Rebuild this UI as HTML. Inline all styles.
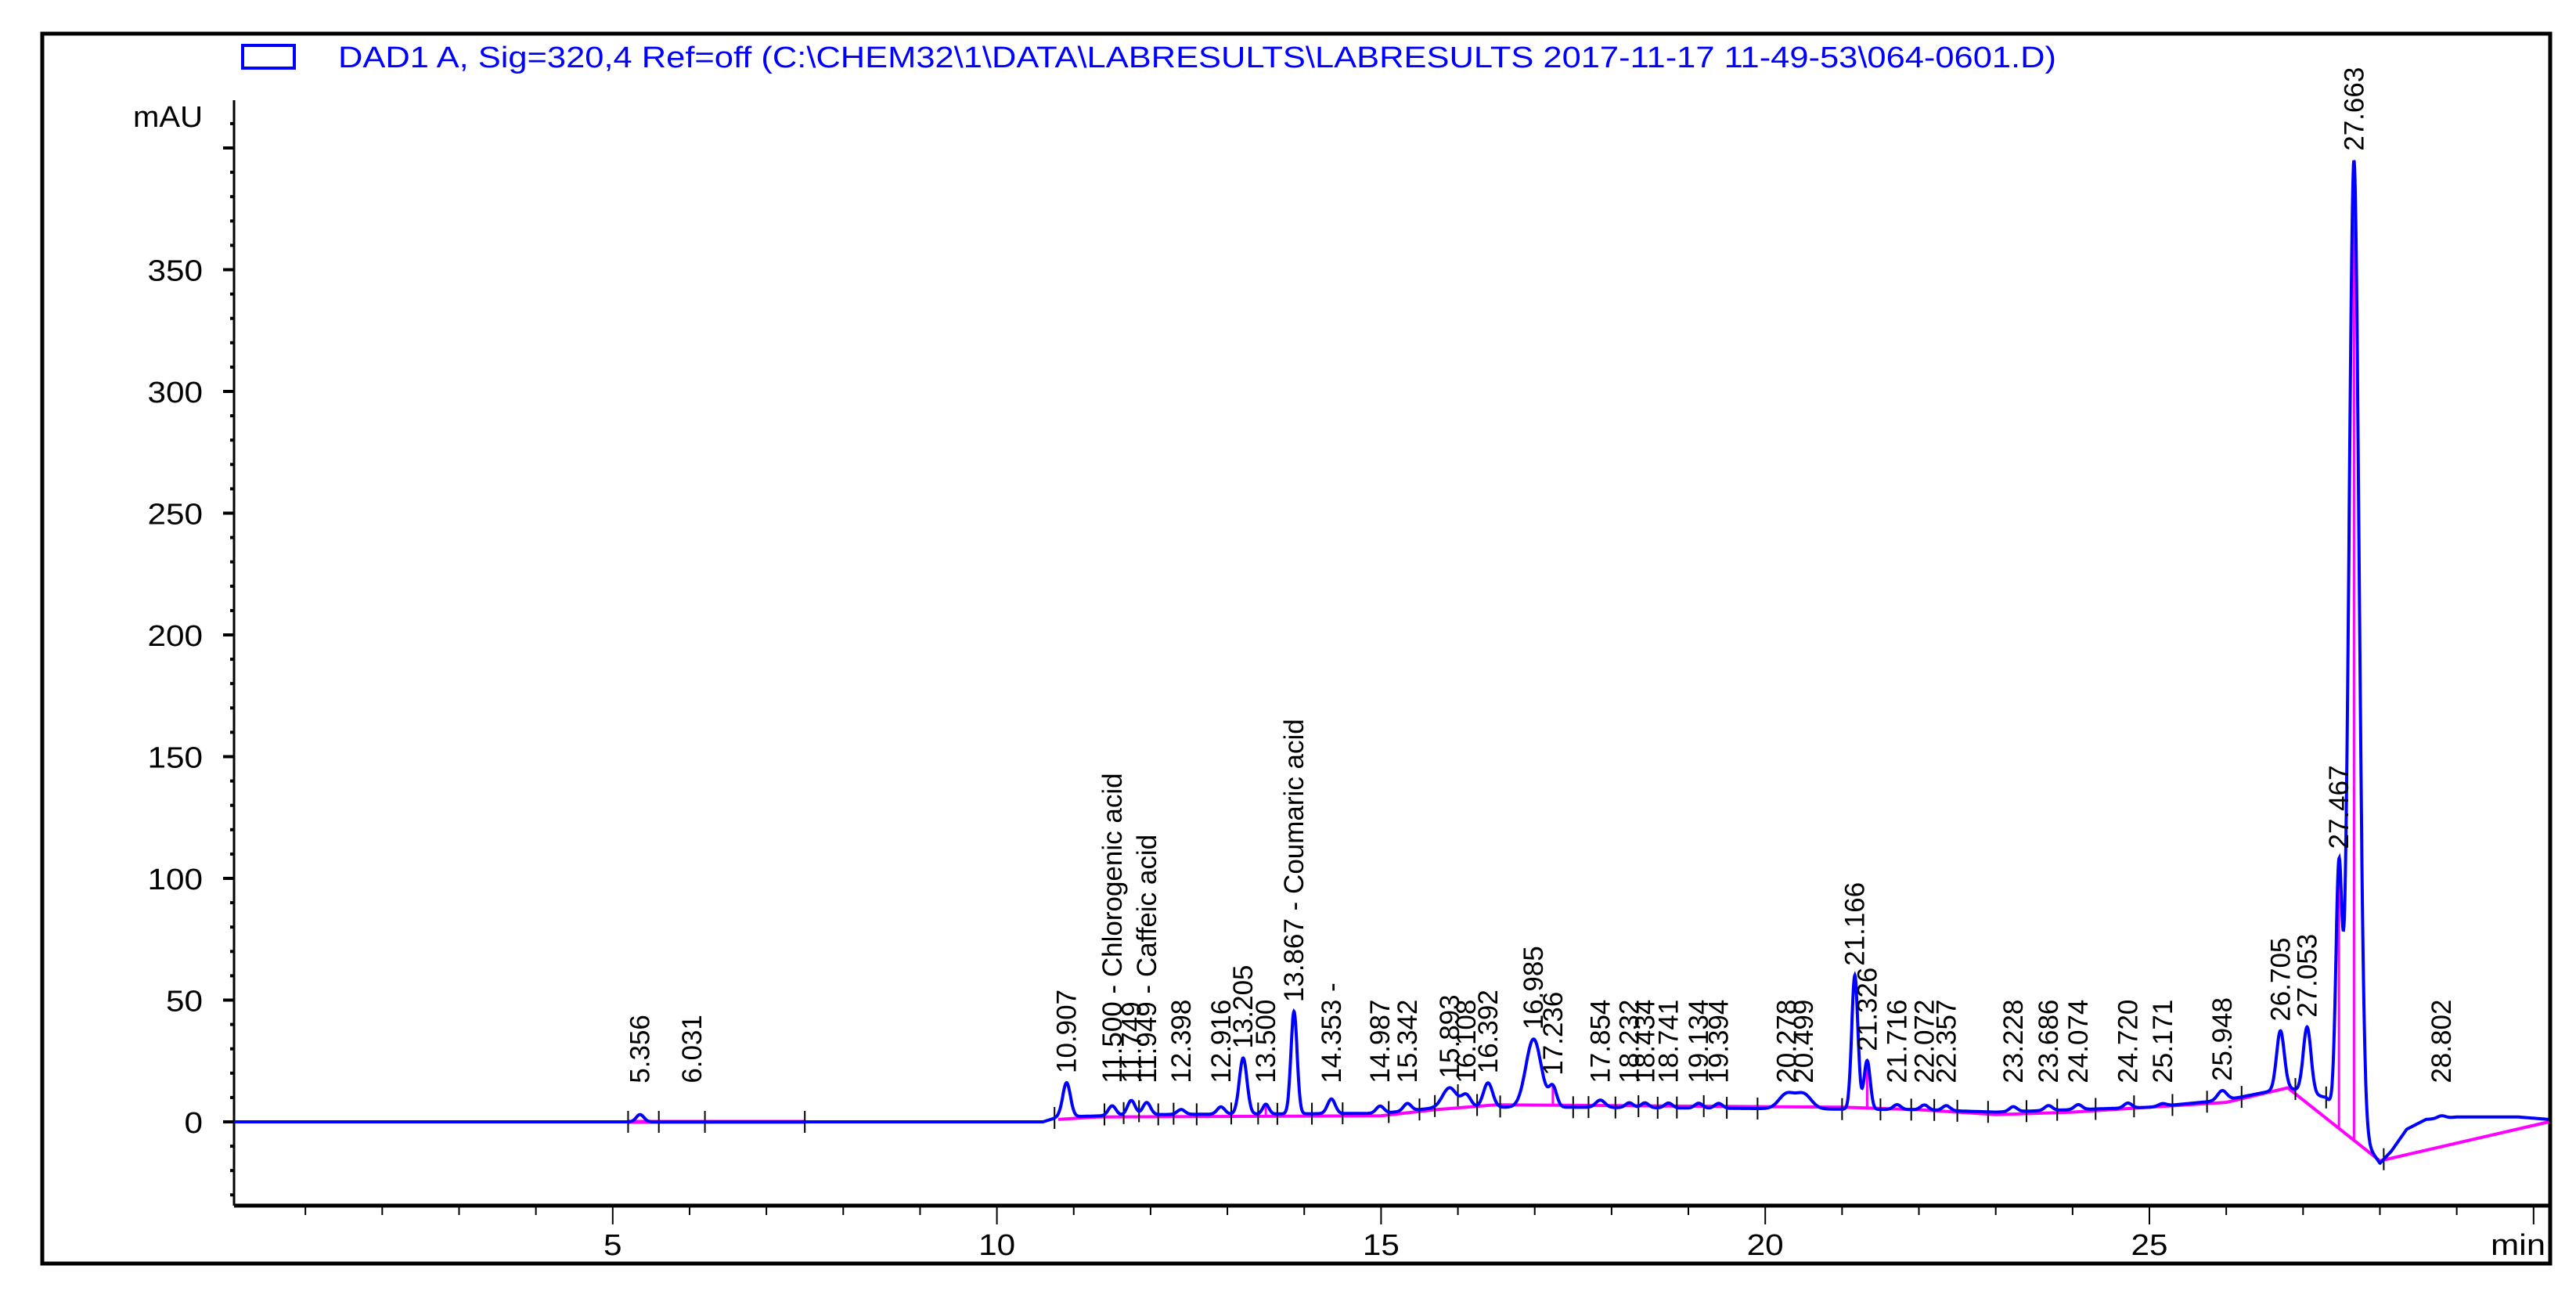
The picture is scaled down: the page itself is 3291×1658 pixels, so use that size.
<!DOCTYPE html>
<html><head><meta charset="utf-8"><title>DAD1 A chromatogram</title>
<style>
html,body{margin:0;padding:0;background:#fff;}
svg{display:block;font-family:"Liberation Sans",sans-serif;}
</style></head>
<body>
<svg id="chart" width="3291" height="1658" viewBox="0 0 3291 1658" xmlns="http://www.w3.org/2000/svg">
<rect x="0" y="0" width="3291" height="1658" fill="#fff"/>
<rect x="54" y="43" width="3204" height="1571" fill="none" stroke="#000" stroke-width="5"/>
<rect x="310" y="58" width="66" height="29" fill="none" stroke="#0000ff" stroke-width="4"/>
<text x="432" y="86" font-size="38" fill="#0000ff" textLength="2195" lengthAdjust="spacingAndGlyphs">DAD1 A, Sig=320,4 Ref=off (C:\CHEM32\1\DATA\LABRESULTS\LABRESULTS 2017-11-17 11-49-53\064-0601.D)</text>
<text x="170" y="162" font-size="38" textLength="89" lengthAdjust="spacingAndGlyphs">mAU</text>
<g id="axes"></g>
<g id="marks"></g>
<g id="labels"></g>
</svg>
<script>
// ---- data ----
const peakTimes = [5.356,6.031,10.907,11.500,11.749,11.949,12.398,12.916,13.205,13.500,13.867,14.353,14.987,15.342,15.893,16.108,16.392,16.985,17.236,17.854,18.232,18.434,18.741,19.134,19.394,20.278,20.499,21.166,21.326,21.716,22.072,22.357,23.228,23.686,24.074,24.720,25.171,25.948,26.705,27.053,27.467,27.663,28.802];
const peakHeights = [3,0,14,4,6,5,2,3,23,4,42,6,3,3,8,5,10,28,8,3,2,2,2,2,2,6,6,55,20,2,2,2,2,2,2,2,1,4,24,27,100,398,1];
const peakWidths = [0.05,0.05,0.05,0.05,0.05,0.05,0.05,0.05,0.05,0.04,0.04,0.05,0.05,0.05,0.09,0.06,0.06,0.1,0.05,0.06,0.05,0.05,0.05,0.05,0.05,0.1,0.1,0.04,0.04,0.05,0.05,0.05,0.05,0.05,0.05,0.05,0.05,0.06,0.05,0.05,0.04,0.065,0.05];
const peakNames = ["5.356","6.031","10.907","11.500 - Chlorogenic acid","11.749","11.949 - Caffeic acid","12.398","12.916","13.205","13.500","13.867 - Coumaric acid","14.353 -","14.987","15.342","15.893","16.108","16.392","16.985","17.236","17.854","18.232","18.434","18.741","19.134","19.394","20.278","20.499","21.166","21.326","21.716","22.072","22.357","23.228","23.686","24.074","24.720","25.171","25.948","26.705","27.053","27.467","27.663","28.802"];
const signalBaseT = [0,10.6,10.8,12,15,15.8,17.5,22,23,25,26,26.8,27.3,27.8,28.0,28.15,28.35,28.6,29.0,29.8,30.2];
const signalBaseV = [0,0,2,3,3.5,6,6,5,4,6,9,14,10,-8,-17,-12,-3,1,2,2,1];
const integBaseT = [10.8,11.3,15.0,15.7,16.5,21.0,22.0,23.0,24.0,25.0,26.0,26.8,28.0,30.2];
const integBaseV = [1,2,2.5,5,7,6,5,3,4,6,8,14,-16,0];
const integSeg2T = [5.2,7.5];
const integSeg2V = [0,0];
const dropTimes = [13.5,17.236,21.326,27.467,27.663];
const cutTimes = [5.2,5.6,6.2,7.5,10.75,11.4,11.65,11.85,12.1,12.3,12.6,13.05,13.4,13.65,14.1,14.5,15.1,15.5,15.7,16.0,16.25,16.55,17.5,17.7,18.05,18.35,18.6,18.85,19.2,19.5,19.9,21.0,21.5,21.9,22.2,22.5,22.9,23.4,23.8,24.3,24.8,25.3,25.75,26.2,26.9,27.3,28.05];
const yTickLabels = [0,50,100,150,200,250,300,350];
const xTickLabels = [5,10,15,20,25];

// ---- axes ----
const X0=292, XPM=98.16, Y0=1433, YPU=3.11, XEND=3256, YTOP=128, YBOT=1540, YAX=299;
const TMAX=(XEND-X0)/XPM;
const xs = t => X0 + t*XPM;
const ys = v => Y0 - v*YPU;
const NS='http://www.w3.org/2000/svg';
function mk(tag, parent, attrs){const e=document.createElementNS(NS,tag);for(const k in attrs)e.setAttribute(k,attrs[k]);parent.appendChild(e);return e;}
const axes=document.getElementById('axes'), marks=document.getElementById('marks'), labels=document.getElementById('labels');

let el=mk('line',axes,{x1:YAX,y1:YTOP,x2:YAX,y2:YBOT,stroke:'#000','stroke-width':3});


el=mk('line',axes,{x1:YAX,y1:YBOT,x2:XEND,y2:YBOT,stroke:'#000','stroke-width':5});


for(let v=-30; v<=410; v+=10){
  const major = v%50===0;
  el=mk('line',axes,{x1:YAX-(major?14:5),y1:ys(v),x2:YAX,y2:ys(v),stroke:'#000','stroke-width':4});
  
  
}
yTickLabels.forEach(v=>{
  const t=mk('text',axes,{x:259,y:ys(v)+14,'font-size':38,'text-anchor':'end',textLength:String(v).length*23.5,lengthAdjust:'spacingAndGlyphs'});
  t.textContent=v;
  
  
});
for(let m=1; m<=30; m++){
  const major=m%5===0;
  el=mk('line',axes,{x1:xs(m),y1:YBOT,x2:xs(m),y2:YBOT+(major?24:12),stroke:'#000','stroke-width':2});
  
  
}
xTickLabels.forEach(v=>{
  const t=mk('text',axes,{x:xs(v),y:1603,'font-size':38,'text-anchor':'middle',textLength:String(v).length*23.5,lengthAdjust:'spacingAndGlyphs'});
  t.textContent=v;
  
  
});
el=mk('text',axes,{x:3252,y:1603,'font-size':38,'text-anchor':'end',textLength:70,lengthAdjust:'spacingAndGlyphs'});
el.textContent='min';



// ---- signal ----
function interp(T,V,t){ if(t<=T[0])return V[0]; for(let i=1;i<T.length;i++){ if(t<=T[i]) return V[i-1]+(V[i]-V[i-1])*(t-T[i-1])/(T[i]-T[i-1]); } return V[V.length-1]; }
function signal(t){ let v=interp(signalBaseT,signalBaseV,t); for(let i=0;i<peakTimes.length;i++){ const d=(t-peakTimes[i])/peakWidths[i]; v+=peakHeights[i]*Math.exp(-0.5*d*d);} return v; }

function pinkPath(T,V){ return T.map((t,i)=>(i?'L':'M')+xs(t).toFixed(1)+' '+ys(V[i]).toFixed(1)).join(' '); }
el=mk('path',marks,{d:pinkPath(integSeg2T,integSeg2V),fill:'none',stroke:'#ff00ff','stroke-width':5});


el=mk('path',marks,{d:pinkPath(integBaseT,integBaseV),fill:'none',stroke:'#ff00ff','stroke-width':4});


dropTimes.forEach(t=>{
  el=mk('line',marks,{x1:xs(t),y1:ys(interp(integBaseT,integBaseV,t)),x2:xs(t),y2:ys(signal(t)),stroke:'#ff00ff','stroke-width':3});
  
  
});
cutTimes.forEach(t=>{
  const yy=ys(signal(t));
  el=mk('line',marks,{x1:xs(t),y1:yy-14,x2:xs(t),y2:yy+14,stroke:'#000','stroke-width':2});
  
  
});
let d='';
for(let t=(YAX-X0)/XPM; t<=TMAX; t+=0.005){ d+=(d?'L':'M')+xs(t).toFixed(1)+' '+ys(signal(t)).toFixed(1); }
el=mk('path',marks,{d:d,fill:'none',stroke:'#0000ff','stroke-width':4});



// ---- peak labels ----
peakTimes.forEach((t,i)=>{
  const apex=Math.min(ys(signal(t)), ys(12));
  const x=xs(t)+12, y=apex-12;
  const tx=mk('text',labels,{x:x,y:y,'font-size':35,transform:`rotate(-90 ${x} ${y})`});
  tx.textContent=peakNames[i];
  
  
});
</script>
</body></html>
